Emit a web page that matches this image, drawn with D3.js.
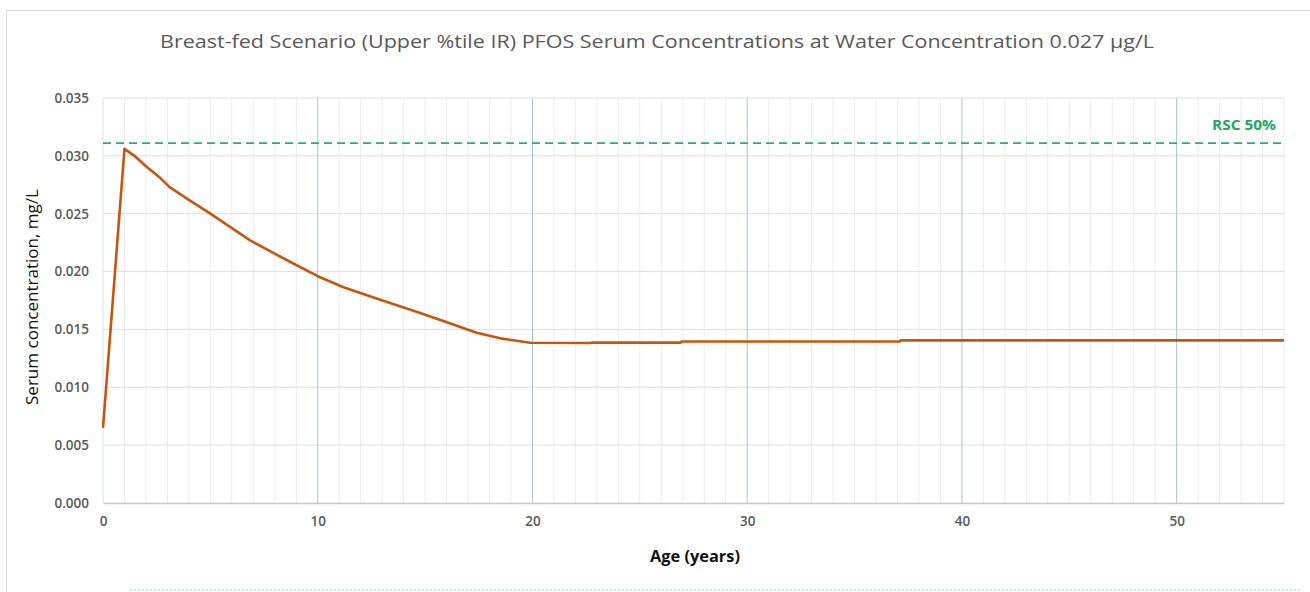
<!DOCTYPE html>
<html>
<head>
<meta charset="utf-8">
<script src="https://cdn.jsdelivr.net/npm/d3@7"></script>
<style>
  body { margin: 0; background: #fff; }
  text { font-family: "Open Sans", "Noto Sans", sans-serif; }
</style>
</head>
<body>
<svg width="1310" height="592"></svg>
<script>
// values
const ages = [0, 1, 1.5, 2, 2.6, 3.1, 4, 5, 6.85, 8.55, 10, 11.2, 13.05, 14.6, 16.15, 17.4, 18.5, 19.9, 22.7, 22.75, 26.9, 26.95, 37.1, 37.15, 55]
const serum = [0.0065, 0.0306, 0.02995, 0.0291, 0.0282, 0.0273, 0.0262, 0.0250, 0.0227, 0.0210, 0.0196, 0.01864, 0.01748, 0.01653, 0.01553, 0.01472, 0.01423, 0.01385, 0.01383, 0.01386, 0.01386, 0.01396, 0.01396, 0.01405, 0.01405]
const rsc = 0.0311
const yTicks = [0, 0.005, 0.010, 0.015, 0.020, 0.025, 0.030, 0.035]
const xTicks = [0, 10, 20, 30, 40, 50]

const title = 'Breast-fed Scenario (Upper %tile IR) PFOS Serum Concentrations at Water Concentration 0.027 \u00b5g/L'

const svg = d3.select('svg'),
    width = +svg.attr('width'),
    height = +svg.attr('height')

const margin = { left: 103, right: 26, top: 98, bottom: 89 }

const x = d3.scaleLinear().domain([0, 55]).range([margin.left, width - margin.right]),
    y = d3.scaleLinear().domain([0, 0.035]).range([height - margin.bottom, margin.top])

// outer frame
svg.append('rect')
    .attr('x', 6.5).attr('y', 10.5)
    .attr('width', width).attr('height', height)
    .style('fill', 'none')
    .style('stroke', '#d9d9d9')

// title
svg.append('text')
    .attr('x', 657).attr('y', 48)
    .attr('text-anchor', 'middle')
    .attr('textLength', 994)
    .attr('lengthAdjust', 'spacingAndGlyphs')
    .style('font-size', '18px')
    .style('fill', '#595959')
    .text(title)

// minor vertical grid, every year
svg.append('g').selectAll('line')
    .data(d3.range(0, 56).filter((d) => d % 10 !== 0))
    .enter().append('line')
    .attr('x1', (d) => x(d)).attr('x2', (d) => x(d))
    .attr('y1', y(0.035)).attr('y2', y(0))
    .style('stroke', '#ececec')
    .style('stroke-width', 1)

// horizontal grid
svg.append('g').selectAll('line')
    .data(yTicks.filter((d) => d > 0))
    .enter().append('line')
    .attr('x1', x(0)).attr('x2', x(55))
    .attr('y1', (d) => y(d)).attr('y2', (d) => y(d))
    .style('stroke', '#dedede')
    .style('stroke-width', 1)

// major vertical grid
svg.append('g').selectAll('line')
    .data(xTicks)
    .enter().append('line')
    .attr('x1', (d) => x(d)).attr('x2', (d) => x(d))
    .attr('y1', y(0.035)).attr('y2', y(0))
    .style('stroke', (d) => d === 0 ? '#d6e2ee' : '#a8c3dc')
    .style('stroke-width', 1)

// x axis
const xAxis = svg.append('g')
    .attr('transform', 'translate(0,' + y(0) + ')')
    .call(d3.axisBottom(x).tickValues(xTicks).tickSize(0).tickPadding(13).tickFormat(d3.format('d')))
xAxis.select('.domain').style('stroke', '#c8c8c8').style('stroke-width', 1.5)
xAxis.selectAll('text')
    .style('font-size', '13.5px')
    .style('font-weight', 600)
    .style('fill', '#595959')
    .style('font-family', '"Open Sans", sans-serif')

// y axis
const yAxis = svg.append('g')
    .attr('transform', 'translate(' + x(0) + ',0)')
    .call(d3.axisLeft(y).tickValues(yTicks).tickSize(0).tickPadding(14).tickFormat(d3.format('.3f')))
yAxis.select('.domain').remove()
yAxis.selectAll('text')
    .style('font-size', '13.5px')
    .style('font-weight', 600)
    .style('fill', '#595959')
    .style('font-family', '"Open Sans", sans-serif')

// axis titles
svg.append('text')
    .attr('x', 695).attr('y', 562)
    .attr('text-anchor', 'middle')
    .attr('textLength', 90)
    .attr('lengthAdjust', 'spacingAndGlyphs')
    .style('font-size', '15.5px')
    .style('font-weight', 700)
    .style('fill', '#111')
    .text('Age (years)')

svg.append('text')
    .attr('transform', 'translate(38,297)rotate(-90)')
    .attr('text-anchor', 'middle')
    .attr('textLength', 216)
    .attr('lengthAdjust', 'spacingAndGlyphs')
    .style('font-size', '16px')
    .style('fill', '#111')
    .text('Serum concentration, mg/L')

// RSC 50% reference line
svg.append('line')
    .attr('x1', x(0)).attr('x2', x(55))
    .attr('y1', y(rsc)).attr('y2', y(rsc))
    .style('stroke', '#1fb36e')
    .style('stroke-width', 1.8)
    .style('stroke-dasharray', '8,5')

svg.append('text')
    .attr('x', 1276).attr('y', 130)
    .attr('text-anchor', 'end')
    .attr('textLength', 64)
    .attr('lengthAdjust', 'spacingAndGlyphs')
    .style('font-size', '14px')
    .style('font-weight', 700)
    .style('fill', '#23a862')
    .text('RSC 50%')

// serum curve
const line = d3.line()
    .x((d) => x(d[0]))
    .y((d) => y(d[1]))

svg.append('path')
    .datum(ages.map((a, i) => [a, serum[i]]))
    .attr('d', line)
    .style('fill', 'none')
    .style('stroke', '#c5560f')
    .style('stroke-width', 2.6)
    .style('stroke-linejoin', 'round')

// faint dotted strip at the bottom edge
svg.append('line')
    .attr('x1', 130).attr('x2', 1300)
    .attr('y1', 590).attr('y2', 590)
    .style('stroke', '#c9efe4')
    .style('stroke-width', 2)
    .style('stroke-dasharray', '2,2')
</script>
</body>
</html>
